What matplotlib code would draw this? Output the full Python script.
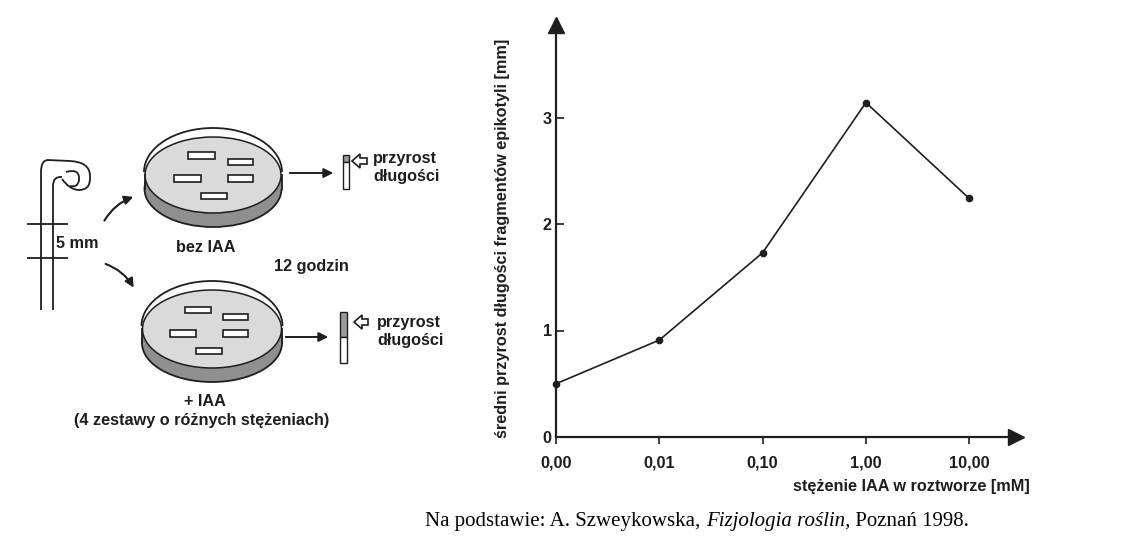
import matplotlib
matplotlib.use("Agg")
import matplotlib.pyplot as plt
from matplotlib.patches import Ellipse, Rectangle, Polygon, FancyArrowPatch, PathPatch, Arc
from matplotlib.path import Path

# ---- data ----
conc_labels = ["0,00", "0,01", "0,10", "1,00", "10,00"]
growth_mm = [0.50, 0.91, 1.73, 3.14, 2.24]
y_ticks = [0, 1, 2, 3]
y_label = "średni przyrost długości fragmentów epikotyli [mm]"
x_label = "stężenie IAA w roztworze [mM]"

W, H = 1146, 540
fig = plt.figure(figsize=(W / 100, H / 100), dpi=100)
SANS = "Liberation Sans"
SERIF = "Liberation Serif"
FS = 11.7
K = "#1e1e1e"

# ---- chart ----
px_x0, px_xr, px_y0, px_yt = 556, 1016, 437, 25
ax = fig.add_axes([px_x0 / W, (H - px_y0) / H, (px_xr - px_x0) / W, (px_y0 - px_yt) / H])
x = list(range(len(conc_labels)))
ax.plot(x, growth_mm, color=K, lw=1.2, marker="o", ms=4.5, clip_on=False, zorder=3)
ax.set_xlim(0, (px_xr - px_x0) / 103.3)
ax.set_ylim(0, (px_y0 - px_yt) / 106.5)
for s in ("top", "right"):
    ax.spines[s].set_visible(False)
for s in ("left", "bottom"):
    ax.spines[s].set_linewidth(1.6)
    ax.spines[s].set_color(K)
ax.plot(1, 0, ">", color=K, ms=11, transform=ax.transAxes, clip_on=False)
ax.plot(0, 1, "^", color=K, ms=11, transform=ax.transAxes, clip_on=False)
ax.set_xticks(x)
ax.set_xticklabels(conc_labels, fontfamily=SANS, fontweight="bold", fontsize=FS, color=K)
ax.set_yticks(y_ticks)
ax.set_yticklabels([str(v) for v in y_ticks], fontfamily=SANS, fontweight="bold", fontsize=FS, color=K)
ax.tick_params(axis="x", direction="out", length=5, width=1.2, pad=8, colors=K)
ax.tick_params(axis="y", direction="in", length=6, width=1.2, pad=3, colors=K)
ax.patch.set_alpha(0)

fig.text(503 / W, 1 - 238 / H, y_label, rotation=90, ha="center", va="center",
         fontfamily=SANS, fontweight="bold", fontsize=FS, color=K)
fig.text(1030 / W, 1 - 487 / H, x_label, ha="right", va="center",
         fontfamily=SANS, fontweight="bold", fontsize=FS, color=K)

# ---- overlay for diagram and footer ----
ov = fig.add_axes([0, 0, 1, 1], zorder=-1)
ov.set_xlim(0, W)
ov.set_ylim(H, 0)
ov.axis("off")

def dish(cx, cy, w, h, depth):
    ov.add_patch(Ellipse((cx, cy + depth), w, h, facecolor="#8f8f8f", edgecolor=K, lw=1.3))
    ov.add_patch(Rectangle((cx - w / 2, cy), w, depth, facecolor="#8f8f8f", edgecolor="none"))
    ov.plot([cx - w / 2, cx - w / 2], [cy, cy + depth], color=K, lw=1.3)
    ov.plot([cx + w / 2, cx + w / 2], [cy, cy + depth], color=K, lw=1.3)
    ov.add_patch(Ellipse((cx, cy), w - 1, h, facecolor="#dadada", edgecolor=K, lw=1.1))
    ov.add_patch(Arc((cx, cy - 3), w + 1, h + 12, theta1=180, theta2=360, edgecolor=K, lw=1.3))

def rects(lst):
    for x0, y0, x1, y1 in lst:
        ov.add_patch(Rectangle((x0, y0), x1 - x0, y1 - y0, facecolor="white", edgecolor=K, lw=1.2))

dish(213, 175, 137, 76, 14)
rects([(188, 152, 215, 159), (228, 159, 253, 165), (174, 175, 201, 182),
       (228, 175, 253, 182), (201, 193, 227, 199)])
dish(212, 329, 140, 78, 14)
rects([(185, 307, 211, 313), (223, 314, 248, 320), (170, 330, 196, 337),
       (223, 330, 248, 337), (196, 348, 222, 354)])

def txt(xp, yp, s, ha="center"):
    ov.text(xp, yp, s, ha=ha, va="center", fontfamily=SANS, fontweight="bold", fontsize=FS, color=K)

txt(206, 247, "bez IAA")
txt(311, 266, "12 godzin")
txt(205, 402, "+ IAA")
txt(202, 421, "(4 zestawy o różnych stężeniach)")
txt(56, 243, "5 mm", ha="left")
txt(373, 158, "przyrost", ha="left")
txt(373, 177, "długości", ha="left")
txt(377, 322, "przyrost", ha="left")
txt(377, 341, "długości", ha="left")

# straight arrows
for (x0, x1, yy) in [(287, 336, 173), (283, 331, 337)]:
    ov.add_patch(FancyArrowPatch((x0, yy), (x1, yy), arrowstyle="-|>", mutation_scale=14, lw=1.4, color=K))
# curved arrows
ov.add_patch(FancyArrowPatch((103, 223), (136, 196), arrowstyle="-|>", mutation_scale=13, lw=1.5,
                             color=K, connectionstyle="arc3,rad=-0.2"))
ov.add_patch(FancyArrowPatch((103, 263), (135, 290), arrowstyle="-|>", mutation_scale=13, lw=1.5,
                             color=K, connectionstyle="arc3,rad=-0.2"))

# cylinders (segments)
def cyl(x0, x1, y0, ys, y1):
    ov.add_patch(Rectangle((x0, y0), x1 - x0, ys - y0, facecolor="#9a9a9a", edgecolor=K, lw=1.0))
    ov.add_patch(Rectangle((x0, ys), x1 - x0, y1 - ys, facecolor="white", edgecolor=K, lw=1.0))

cyl(343, 349, 155, 162, 189)
cyl(340, 347, 312, 337, 363)

def open_arrow(tip_x, yy, tail_x):
    hx = tip_x + 8
    pts = [(tip_x, yy), (hx, yy - 7), (hx, yy - 3), (tail_x, yy - 3), (tail_x, yy + 3),
           (hx, yy + 3), (hx, yy + 7)]
    ov.add_patch(Polygon(pts, closed=True, facecolor="white", edgecolor=K, lw=1.2))

open_arrow(352, 161, 367)
open_arrow(354, 322, 368)

# stem with hook
M, L, C3 = Path.MOVETO, Path.LINETO, Path.CURVE3
outer = Path([(41, 310), (41, 172), (41, 160), (48, 160), (70, 161),
              (90, 162), (90, 176), (91, 190), (79, 190), (70, 190), (62, 179)],
             [M, L, C3, C3, L, C3, C3, C3, C3, C3, C3])
inner = Path([(53, 310), (53, 186), (53, 176), (62, 177)], [M, L, C3, C3])
curl = Path([(66, 172), (80, 168), (79, 180), (78, 188), (70, 186)], [M, C3, C3, C3, C3])
for p in (outer, inner, curl):
    ov.add_patch(PathPatch(p, facecolor="none", edgecolor=K, lw=1.3))
ov.plot([28, 67], [224, 224], color=K, lw=1.3)
ov.plot([28, 67], [258, 258], color=K, lw=1.3)

# footer with mixed fonts
fig.canvas.draw()
r = fig.canvas.get_renderer()
xcur = 425
parts = [("Na podstawie: A. Szweykowska, ", "normal"), ("Fizjologia roślin,", "italic"),
         (" Poznań 1998.", "normal")]
for s, st in parts:
    t = ov.text(xcur, 526, s, ha="left", va="baseline", fontfamily=SERIF, fontstyle=st,
                fontsize=15, color="black")
    bb = t.get_window_extent(renderer=r)
    xcur += bb.width

fig.savefig("out.png", dpi=100)
